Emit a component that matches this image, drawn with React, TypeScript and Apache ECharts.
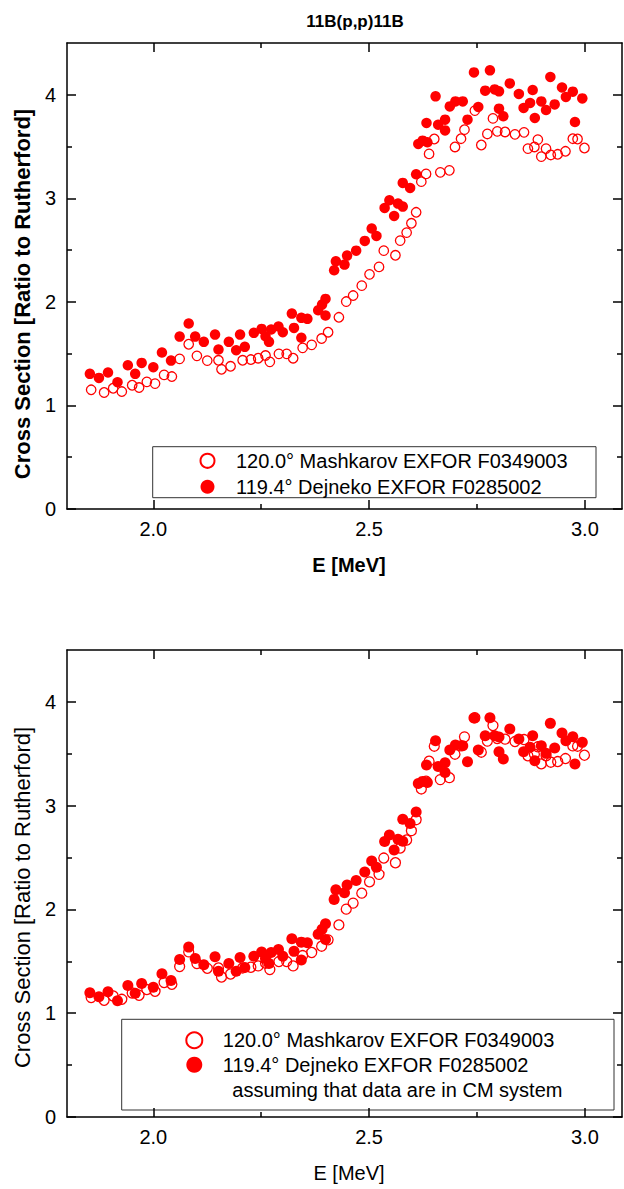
import React, { useEffect, useRef } from "react";
import * as echarts from "echarts";

// ---------- data ----------
const energyMash = [
  1.856, 1.886, 1.907, 1.927, 1.951, 1.967, 1.985, 2.004, 2.025, 2.043,
  2.061, 2.082, 2.101, 2.125, 2.151, 2.158, 2.179, 2.207, 2.226, 2.243,
  2.26, 2.27, 2.291, 2.309, 2.324, 2.346, 2.367, 2.39, 2.405, 2.43,
  2.447, 2.463, 2.483, 2.501, 2.523, 2.534, 2.561, 2.572, 2.587, 2.598,
  2.609, 2.621, 2.632, 2.639, 2.651, 2.665, 2.686, 2.699, 2.713, 2.721,
  2.745, 2.76, 2.774, 2.787, 2.797, 2.815, 2.838, 2.859, 2.868, 2.883,
  2.891, 2.899, 2.91, 2.921, 2.937, 2.955, 2.972, 2.983, 2.999,
];
const ratioMash = [
  1.151, 1.125, 1.166, 1.134, 1.195, 1.173, 1.228, 1.211, 1.295, 1.279,
  1.45, 1.591, 1.479, 1.433, 1.436, 1.349, 1.378, 1.436, 1.443, 1.456,
  1.482, 1.421, 1.498, 1.498, 1.456, 1.556, 1.585, 1.646, 1.707, 1.851,
  2.003, 2.061, 2.157, 2.266, 2.338, 2.495, 2.45, 2.592, 2.669, 2.759,
  2.865, 3.161, 3.236, 3.429, 3.573, 3.251, 3.27, 3.496, 3.576, 3.663,
  3.847, 3.515, 3.622, 3.772, 3.647, 3.641, 3.618, 3.637, 3.48, 3.496,
  3.567, 3.403, 3.48, 3.419, 3.425, 3.454, 3.576, 3.573, 3.486,
];
const energyDej = [
  1.853, 1.874, 1.895, 1.917, 1.941, 1.958, 1.973, 2.0, 2.02, 2.041,
  2.061, 2.082, 2.097, 2.117, 2.143, 2.151, 2.175, 2.192, 2.201, 2.212,
  2.233, 2.251, 2.26, 2.268, 2.273, 2.29, 2.3, 2.321, 2.326, 2.343,
  2.343, 2.357, 2.382, 2.391, 2.399, 2.399, 2.419, 2.423, 2.443, 2.449,
  2.47, 2.49, 2.506, 2.517, 2.536, 2.547, 2.558, 2.567, 2.578, 2.578,
  2.595, 2.609, 2.614, 2.624, 2.633, 2.635, 2.654, 2.66, 2.676, 2.676,
  2.687, 2.7, 2.717, 2.728, 2.743, 2.753, 2.769, 2.78, 2.791, 2.801,
  2.801, 2.811, 2.826, 2.847, 2.858, 2.873, 2.879, 2.884, 2.899, 2.91,
  2.92, 2.93, 2.947, 2.956, 2.972, 2.977, 2.994,
];
const ratioDejLab = [
  1.305, 1.266, 1.318, 1.224, 1.388, 1.305, 1.411, 1.369, 1.511, 1.433,
  1.665, 1.791, 1.665, 1.614, 1.684, 1.54, 1.614, 1.533, 1.684, 1.566,
  1.701, 1.739, 1.668, 1.614, 1.733, 1.762, 1.707, 1.887, 1.749, 1.846,
  1.653, 1.836, 1.919, 1.974, 2.029, 1.868, 2.305, 2.392, 2.36, 2.447,
  2.495, 2.589, 2.708, 2.637, 2.907, 2.981, 2.83, 2.949, 2.92, 3.149,
  3.1, 3.232, 3.525, 3.557, 3.728, 3.541, 3.985, 3.711, 3.76, 3.656,
  3.888, 3.936, 3.936, 3.76, 4.216, 3.882, 4.04, 4.236, 4.052, 4.033,
  3.866, 3.792, 4.11, 4.008, 3.873, 3.921, 4.046, 3.776, 3.936, 3.853,
  4.172, 3.907, 4.071, 3.979, 4.03, 3.737, 3.965,
];
const ratioDejCm = [
  1.197, 1.158, 1.207, 1.12, 1.267, 1.193, 1.287, 1.251, 1.38, 1.316,
  1.518, 1.637, 1.528, 1.467, 1.544, 1.405, 1.48, 1.405, 1.538, 1.441,
  1.55, 1.589, 1.528, 1.48, 1.586, 1.615, 1.55, 1.718, 1.596, 1.685,
  1.512, 1.68, 1.76, 1.808, 1.863, 1.711, 2.097, 2.189, 2.16, 2.236,
  2.278, 2.361, 2.467, 2.406, 2.654, 2.718, 2.573, 2.677, 2.657, 2.87,
  2.828, 2.94, 3.214, 3.234, 3.391, 3.224, 3.625, 3.378, 3.413, 3.32,
  3.536, 3.584, 3.577, 3.423, 3.845, 3.536, 3.674, 3.848, 3.674, 3.661,
  3.519, 3.449, 3.738, 3.642, 3.519, 3.562, 3.674, 3.432, 3.577, 3.504,
  3.793, 3.555, 3.7, 3.625, 3.664, 3.401, 3.61,
];

const xMajorTicks = [2.0, 2.5, 3.0];
const xMinorTicks = [2.25, 2.75];
const yMajorTicks = [0, 1, 2, 3, 4];
const yMinorTicks = [0.5, 1.5, 2.5, 3.5];

const NAME_MASH = "120.0° Mashkarov EXFOR F0349003";
const NAME_DEJ = "119.4° Dejneko EXFOR F0285002";
const NOTE = "assuming that data are in CM system";
const TITLE = "11B(p,p)11B";
const X_TITLE = "E [MeV]";
const Y_TITLE = "Cross Section [Ratio to Rutherford]";

const FONT = '"Liberation Sans", Arial, Helvetica, sans-serif';
const RED = "#ff0000";

const X_MIN = 1.8;
const X_MAX = 3.086;
const Y_MIN = 0;
const Y_MAX = 4.5;

function pairs(xs: number[], ys: number[]) {
  return xs.map((x, i) => [x, ys[i]]);
}

const lineStyle = { color: "#000", width: 1.5 };

function makeXAxes(grid: number, bold: boolean, nameGap: number) {
  const base = {
    type: "value",
    gridIndex: grid,
    min: X_MIN,
    max: X_MAX,
    splitLine: { show: false },
  };
  const axes: any[] = [];
  (["bottom", "top"] as const).forEach((pos) => {
    axes.push({
      ...base,
      position: pos,
      axisLine: { show: true, onZero: false, lineStyle },
      axisTick: { show: true, inside: true, length: 9, customValues: xMajorTicks, lineStyle },
      axisLabel: pos === "bottom"
        ? {
            show: true,
            customValues: xMajorTicks,
            formatter: (v: number) => v.toFixed(1),
            margin: 10,
            fontSize: 20,
            color: "#000",
            fontFamily: FONT,
          }
        : { show: false },
      ...(pos === "bottom"
        ? {
            name: X_TITLE,
            nameLocation: "middle",
            nameGap,
            nameTextStyle: {
              fontSize: 20,
              fontWeight: bold ? "bold" : "normal",
              color: "#000",
              fontFamily: FONT,
              padding: [0, 0, 0, 9],
            },
          }
        : {}),
    });
    axes.push({
      ...base,
      position: pos,
      axisLine: { show: false, onZero: false },
      axisTick: { show: true, inside: true, length: 5, customValues: xMinorTicks, lineStyle },
      axisLabel: { show: false },
    });
  });
  return axes;
}

function makeYAxes(grid: number, bold: boolean, shift: number) {
  const base = {
    type: "value",
    gridIndex: grid,
    min: Y_MIN,
    max: Y_MAX,
    splitLine: { show: false },
  };
  const axes: any[] = [];
  (["left", "right"] as const).forEach((pos) => {
    axes.push({
      ...base,
      position: pos,
      axisLine: { show: true, onZero: false, lineStyle },
      axisTick: { show: true, inside: true, length: 9, customValues: yMajorTicks, lineStyle },
      axisLabel: pos === "left"
        ? {
            show: true,
            customValues: yMajorTicks,
            formatter: (v: number) => String(v),
            margin: 11,
            fontSize: 20,
            color: "#000",
            fontFamily: FONT,
          }
        : { show: false },
      ...(pos === "left"
        ? {
            name: Y_TITLE,
            nameLocation: "middle",
            nameGap: 33,
            nameTextStyle: {
              fontSize: 22,
              fontWeight: bold ? "bold" : "normal",
              color: "#000",
              fontFamily: FONT,
              padding: [0, shift * 2, 0, 0],
            },
          }
        : {}),
    });
    axes.push({
      ...base,
      position: pos,
      axisLine: { show: false, onZero: false },
      axisTick: { show: true, inside: true, length: 5, customValues: yMinorTicks, lineStyle },
      axisLabel: { show: false },
    });
  });
  return axes;
}

const openStyle = { color: "transparent", borderColor: RED, borderWidth: 1.3, opacity: 1 };
const filledStyle = { color: RED, opacity: 1 };

export default function App() {
  const ref = useRef<HTMLDivElement>(null);

  useEffect(() => {
    if (!ref.current) return;
    const chart = echarts.init(ref.current, undefined, { renderer: "svg" });

    const option: any = {
      animation: false,
      backgroundColor: "#fff",
      title: {
        text: TITLE,
        left: 355,
        top: 13,
        padding: 0,
        textAlign: "center",
        textStyle: { fontSize: 17, fontWeight: "bold", color: "#000", fontFamily: FONT },
      },
      grid: [
        { left: 67, top: 43, width: 555, height: 466 },
        { left: 67, top: 650, width: 555, height: 467 },
      ],
      xAxis: [...makeXAxes(0, true, 46), ...makeXAxes(1, false, 46)],
      yAxis: [...makeYAxes(0, true, 18), ...makeYAxes(1, false, 14)],
      legend: [
        {
          left: 199.5,
          top: 447.8,
          orient: "vertical",
          padding: 0,
          itemGap: 0,
          itemWidth: 47,
          itemHeight: 14,
          selectedMode: false,
          textStyle: { fontSize: 20, lineHeight: 26, color: "#000", fontFamily: FONT },
          data: [
            { name: NAME_MASH, icon: "circle" },
            { name: NAME_DEJ, icon: "circle" },
          ],
        },
        {
          left: 185.3,
          top: 1028,
          orient: "vertical",
          padding: 0,
          itemGap: 0,
          itemWidth: 47,
          itemHeight: 16,
          selectedMode: false,
          textStyle: { fontSize: 20, lineHeight: 24.5, color: "#000", fontFamily: FONT },
          data: [
            { name: NAME_MASH, icon: "circle" },
            { name: NAME_DEJ, icon: "circle" },
          ],
        },
      ],
      graphic: [
        {
          type: "rect",
          z: 0,
          shape: { x: 152.7, y: 446.7, width: 443.3, height: 51 },
          style: { fill: "none", stroke: "#333", lineWidth: 1 },
        },
        {
          type: "rect",
          z: 0,
          shape: { x: 121.7, y: 1019.3, width: 492.3, height: 90.7 },
          style: { fill: "none", stroke: "#333", lineWidth: 1 },
        },
        {
          type: "text",
          x: 232.3,
          y: 1090,
          style: {
            text: NOTE,
            fontSize: 20,
            fontFamily: FONT,
            fill: "#000",
            verticalAlign: "middle",
            align: "left",
          },
        },
      ],
      series: [
        {
          type: "scatter",
          name: NAME_MASH,
          xAxisIndex: 0,
          yAxisIndex: 0,
          symbol: "circle",
          symbolSize: 9.5,
          itemStyle: openStyle,
          data: pairs(energyMash, ratioMash),
        },
        {
          type: "scatter",
          name: NAME_DEJ,
          xAxisIndex: 0,
          yAxisIndex: 0,
          symbol: "circle",
          symbolSize: 10.5,
          itemStyle: filledStyle,
          data: pairs(energyDej, ratioDejLab),
        },
        {
          type: "scatter",
          name: NAME_MASH,
          xAxisIndex: 4,
          yAxisIndex: 4,
          symbol: "circle",
          symbolSize: 10,
          itemStyle: openStyle,
          data: pairs(energyMash, ratioMash),
        },
        {
          type: "scatter",
          name: NAME_DEJ,
          xAxisIndex: 4,
          yAxisIndex: 4,
          symbol: "circle",
          symbolSize: 11,
          itemStyle: filledStyle,
          data: pairs(energyDej, ratioDejCm),
        },
      ],
    };

    chart.setOption(option);
    return () => chart.dispose();
  }, []);

  return (
    <div
      ref={ref}
      style={{ position: "absolute", left: 0, top: 0, width: 624, height: 1189 }}
    />
  );
}
